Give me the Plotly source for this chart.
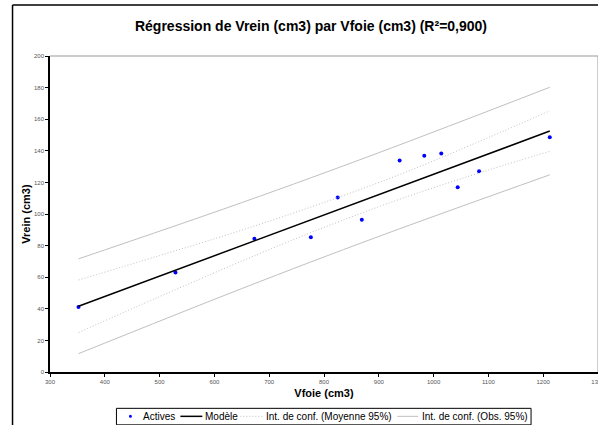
import plotly.graph_objects as go

# observed points (Vfoie, Vrein)
vfoie = [352, 529, 673, 776, 825, 869, 938, 983, 1014, 1044, 1083, 1212]
vrein = [41.2, 63, 84.3, 85.3, 110.5, 96.3, 133.9, 136.8, 138.3, 117, 127.1, 148.5]

# fitted model line
model_x = [352, 1212]
model_y = [41.6, 152.5]

# confidence interval on the mean
mean_x = [352, 500, 650, 800, 950, 1100, 1212]
mean_up = [58.2, 73.7, 89.8, 107.3, 126.6, 148.4, 165.3]
mean_lo = [25.0, 47.7, 70.2, 91.5, 110.8, 127.8, 139.7]

# confidence interval on observations
obs_x = [352, 650, 900, 1212]
obs_up = [71.6, 107.2, 138.8, 180.2]
obs_lo = [11.6, 52.8, 85.8, 124.8]

xticks = [300, 400, 500, 600, 700, 800, 900, 1000, 1100, 1200, 1300]
yticks = [0, 20, 40, 60, 80, 100, 120, 140, 160, 180, 200]

legend_names = ["Actives", "Modèle", "Int. de conf. (Moyenne 95%)", "Int. de conf. (Obs. 95%)"]

W, H = 598, 425
L, R, T, B = 49.5, 598, 56, 371.7
def px(x): return (x - L) / (R - L)
def py(y): return (B - y) / (B - T)

font = "Liberation Sans, Arial, sans-serif"
grey = "#c0c0c0"
dotted = "1px,2px"

fig = go.Figure()
fig.add_trace(go.Scatter(x=vfoie, y=vrein, mode="markers", name=legend_names[0],
                         marker=dict(color="#0000ff", size=4)))
fig.add_trace(go.Scatter(x=model_x, y=model_y, mode="lines", name=legend_names[1],
                         line=dict(color="black", width=1.5)))
fig.add_trace(go.Scatter(x=mean_x, y=mean_up, mode="lines", name=legend_names[2],
                         line=dict(color=grey, width=1, dash=dotted, shape="spline")))
fig.add_trace(go.Scatter(x=mean_x, y=mean_lo, mode="lines", name=legend_names[2],
                         line=dict(color=grey, width=1, dash=dotted, shape="spline")))
fig.add_trace(go.Scatter(x=obs_x, y=obs_up, mode="lines", name=legend_names[3],
                         line=dict(color=grey, width=1, shape="spline")))
fig.add_trace(go.Scatter(x=obs_x, y=obs_lo, mode="lines", name=legend_names[3],
                         line=dict(color=grey, width=1, shape="spline")))

axis_common = dict(showgrid=False, zeroline=False, showline=True, linecolor="black", linewidth=1.5,
                   ticks="outside", ticklen=3, tickcolor="black", tickwidth=1,
                   tickfont=dict(size=6, color="#555555"), automargin=False,
                   ticklabeloverflow="allow")

# compact legend box like the original (plotly's own legend is too tall here)
ly = py(416)
shapes = [
    # grey top/right border of plot area
    dict(type="line", xref="paper", yref="paper", x0=0, x1=1, y0=1, y1=1,
         line=dict(color="#999999", width=1)),
    dict(type="line", xref="paper", yref="paper", x0=1, x1=1, y0=0, y1=1,
         line=dict(color="#999999", width=1)),
    # outer chart frame
    dict(type="line", xref="paper", yref="paper", x0=px(12), x1=px(12), y0=py(5), y1=py(430),
         line=dict(color="black", width=1.5)),
    dict(type="line", xref="paper", yref="paper", x0=px(12), x1=px(610), y0=py(5), y1=py(5),
         line=dict(color="black", width=1.5)),
    # legend frame
    dict(type="rect", xref="paper", yref="paper", x0=px(116), x1=px(531), y0=py(408), y1=py(424.5),
         line=dict(color="black", width=1), fillcolor="white", layer="above"),
    dict(type="circle", xref="paper", yref="paper", x0=px(128.5), x1=px(131.5), y0=py(414.5), y1=py(417.5),
         line=dict(width=0), fillcolor="#0000ff", layer="above"),
    dict(type="line", xref="paper", yref="paper", x0=px(180), x1=px(202), y0=ly, y1=ly,
         line=dict(color="black", width=1.5), layer="above"),
    dict(type="line", xref="paper", yref="paper", x0=px(240), x1=px(263), y0=ly, y1=ly,
         line=dict(color=grey, width=1, dash=dotted), layer="above"),
    dict(type="line", xref="paper", yref="paper", x0=px(397), x1=px(418), y0=ly, y1=ly,
         line=dict(color=grey, width=1), layer="above"),
]
annotations = [
    dict(text=name, xref="paper", yref="paper", x=px(x0), y=ly, xanchor="left", yanchor="middle",
         showarrow=False, font=dict(size=10))
    for name, x0 in zip(legend_names, [141, 203, 264, 420])
]

fig.update_layout(
    width=W, height=H, template="none", showlegend=False,
    paper_bgcolor="white", plot_bgcolor="white",
    font=dict(family=font, color="black"),
    margin=dict(l=L, r=W - R, t=T, b=H - B, autoexpand=False),
    title=dict(text="<b>Régression de Vrein (cm3) par Vfoie (cm3) (R²=0,900)</b>",
               font=dict(size=14), x=311 / W, xanchor="center",
               y=1 - 26 / H, yanchor="middle"),
    xaxis=dict(range=[300, 1300], tickvals=xticks,
               title=dict(text="<b>Vfoie (cm3)</b>", font=dict(size=11), standoff=5), **axis_common),
    yaxis=dict(range=[0, 200], tickvals=yticks,
               title=dict(text="<b>Vrein (cm3)</b>", font=dict(size=11), standoff=1), **axis_common),
    shapes=shapes,
    annotations=annotations,
)

# drop the default page margin so the figure sits at the window corner
fig.write_html("out.html", config={"displayModeBar": False},
               post_script="document.body.style.margin='0';")
